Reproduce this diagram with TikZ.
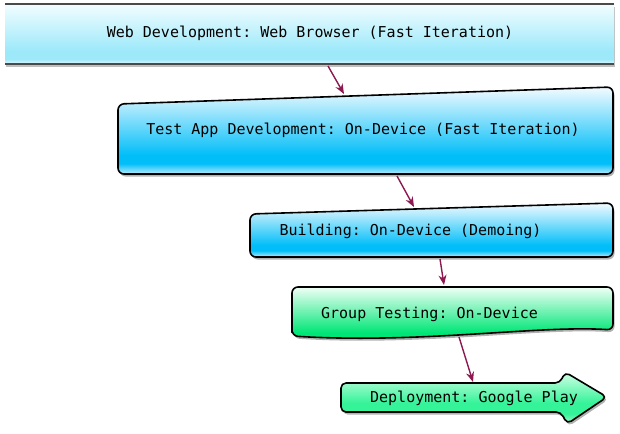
\documentclass[tikz,border=0pt]{standalone}
\usepackage{fontspec}
\setmonofont{DejaVu Sans Mono}
\usetikzlibrary{shadows,arrows.meta}
\definecolor{cA1}{HTML}{F2FDFF}
\definecolor{cA2}{HTML}{9DE9FA}
\definecolor{cA3}{HTML}{E2F9FE}
\definecolor{cB1}{HTML}{F4FBFF}
\definecolor{cB2}{HTML}{02BEF8}
\definecolor{cB3}{HTML}{BDEDFD}
\definecolor{cG1}{HTML}{F0FFF6}
\definecolor{cG2}{HTML}{00E676}
\definecolor{cG3}{HTML}{7FF2B4}
\definecolor{cH1}{HTML}{D2FFE6}
\definecolor{cH2}{HTML}{34F398}
\definecolor{cH3}{HTML}{A6FAD0}
\definecolor{conncol}{HTML}{8C1A50}
\definecolor{edgegray}{HTML}{4A4A4A}
\pgfdeclareverticalshading{shadeA}{100bp}{color(0bp)=(cA3); color(25bp)=(cA3); color(29bp)=(cA2); color(36bp)=(cA2); color(75bp)=(cA1); color(100bp)=(cA1)}
\pgfdeclareverticalshading{shadeB}{100bp}{color(0bp)=(cB3); color(25bp)=(cB3); color(31bp)=(cB2); color(36bp)=(cB2); color(75bp)=(cB1); color(100bp)=(cB1)}
\pgfdeclareverticalshading{shadeG}{100bp}{color(0bp)=(cG3); color(25bp)=(cG3); color(31bp)=(cG2); color(35bp)=(cG2); color(75bp)=(cG1); color(100bp)=(cG1)}
\pgfdeclareverticalshading{shadeH}{100bp}{color(0bp)=(cH3); color(25bp)=(cH3); color(35bp)=(cH2); color(45bp)=(cH2); color(75bp)=(cH1); color(100bp)=(cH1)}
\begin{document}
\begin{tikzpicture}[x=1pt,y=-1pt,
  shp/.style={draw=black, line width=1.6pt, line join=round, rounded corners=6pt,
    drop shadow={shadow xshift=1.5pt, shadow yshift=-2.5pt, fill=black, opacity=0.3}},
  lbl/.style={font=\ttfamily\fontsize{15}{18}\selectfont, text=black, inner sep=0pt,
    text height=11pt, text depth=3pt, anchor=center},
  conn/.style={draw=conncol, line width=1.4pt, -{Stealth[length=10pt,width=8pt]}}]
\useasboundingbox (0,0) rectangle (620,433);
% box 1
\path[shading=shadeA, drop shadow={shadow xshift=1pt, shadow yshift=-3pt, fill=black, opacity=0.25}] (5,4) rectangle (614,64);
\draw[edgegray, line width=2pt] (5,4) -- (614,4);
\draw[edgegray, line width=2pt] (5,64) -- (614,64);
% box 2
\path[shp, shading=shadeB] (118,104) -- (613,87) -- (613,174) -- (118,174) -- cycle;
% box 3
\path[shp, shading=shadeB] (250,214) -- (613,203) -- (613,257) -- (250,257) -- cycle;
% box 4
\path[shp, shading=shadeG] (292,336) -- (292,287) -- (613,287) -- (613,330)
  .. controls (540,325) and (420,344) .. (292,336) -- cycle;
% arrow 5
\path[shp, rounded corners=5pt, shading=shadeH] (341,383) -- (560,383) -- (565,372) -- (607,397)
  -- (567,424) -- (561,412) -- (341,412) -- cycle;
% labels
\node[lbl] (t1) at (310,34) {Web Development: Web Browser (Fast Iteration)};
\node[lbl] (t2) at (363,130) {Test App Development: On-Device (Fast Iteration)};
\node[lbl] (t3) at (410.5,231) {Building: On-Device (Demoing)};
\node[lbl] (t4) at (429.5,314) {Group Testing: On-Device};
\node[lbl] (t5) at (474,398) {Deployment: Google Play};
% connector ends
\coordinate (a1s) at (328,66);
\coordinate (a1e) at (344,94);
\coordinate (a2s) at (397,176);
\coordinate (a2e) at (414,207);
\coordinate (a3s) at (440,259);
\coordinate (a3e) at (444,285);
\coordinate (a4s) at (459,337);
\coordinate (a4e) at (473,382);
\draw[conn] (a1s) -- (a1e);
\draw[conn] (a2s) -- (a2e);
\draw[conn] (a3s) -- (a3e);
\draw[conn] (a4s) -- (a4e);
\end{tikzpicture}
\end{document}
